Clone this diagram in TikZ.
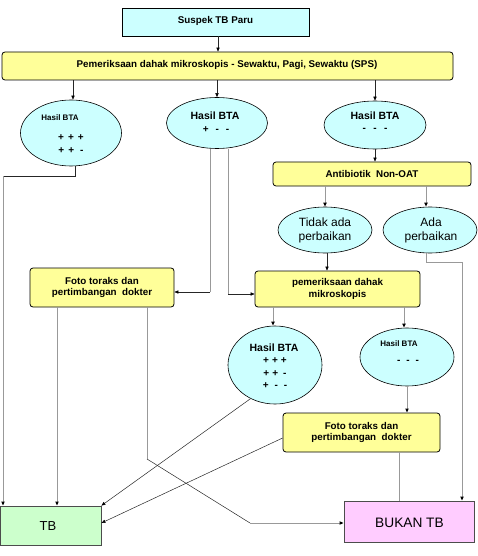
\documentclass[tikz,border=0pt]{standalone}
\usepackage{fontspec}
\setmainfont{Liberation Sans}
\usetikzlibrary{shapes.geometric,arrows.meta,calc}
\definecolor{cyanfill}{HTML}{CCFFFF}
\definecolor{yellowfill}{HTML}{FFFF99}
\definecolor{greenfill}{HTML}{CCFFCC}
\definecolor{pinkfill}{HTML}{FFCCFF}
\definecolor{linegray}{HTML}{999999}
\newcommand{\gp}[1]{\hspace{#1pt}}
\tikzset{
  boxstyle/.style={draw=black, line width=0.8pt, inner sep=0pt},
  ybox/.style={boxstyle, fill=yellowfill, rounded corners=3pt},
  ell/.style={ellipse, draw=black, line width=0.6pt, fill=cyanfill, inner sep=0pt},
  btxt/.style={font=\fontsize{9.8}{11.5}\selectfont\bfseries, align=center, inner sep=0pt},
  htxt/.style={font=\fontsize{10.5}{12}\selectfont\bfseries, inner sep=0pt},
  pmtxt/.style={font=\fontsize{10}{12}\selectfont\bfseries, inner sep=0pt},
  stxt/.style={font=\fontsize{8}{9}\selectfont\bfseries, inner sep=0pt},
  rtxt/.style={font=\fontsize{12}{14}\selectfont, align=center, inner sep=0pt},
  tip/.style={-{Triangle[length=4pt,width=3.2pt,color=black]}},
  gline/.style={draw=linegray, line width=1pt},
  tline/.style={draw=black!85, line width=0.5pt},
}
\begin{document}
\begin{tikzpicture}[x=1pt,y=-1pt]
\useasboundingbox (0,0) rectangle (477,556);
% boxes
\node[boxstyle, fill=cyanfill, minimum width=187pt, minimum height=28pt] (suspek) at (215.5,22) {};
\node[btxt] (suspekt) at (215.5,21) {Suspek TB Paru};
\node[ybox, minimum width=451pt, minimum height=28pt] (sps) at (227.5,66) {};
\node[btxt] (spst) at (227,65) {Pemeriksaan dahak mikroskopis - Sewaktu, Pagi, Sewaktu (SPS)};
% ellipses row 1
\node[ell, minimum width=101pt, minimum height=66pt] (e1) at (71,133) {};
\node[stxt] (e1a) at (60,118) {Hasil BTA};
\node[pmtxt] (e1b) at (71,138) {+\gp{4}+\gp{4}+};
\node[pmtxt] (e1c) at (71,151) {+\gp{4}+\gp{6}-};
\node[ell, minimum width=101pt, minimum height=51pt] (e2) at (217,123) {};
\node[htxt] (e2a) at (215,116) {Hasil BTA};
\node[pmtxt] (e2b) at (216,130) {+\gp{7}-\gp{7}-};
\node[ell, minimum width=102pt, minimum height=48pt] (e3) at (375,125) {};
\node[htxt] (e3a) at (375,116) {Hasil BTA};
\node[pmtxt] (e3b) at (375,130) {-\gp{7.5}-\gp{7.5}-};
% antibiotik
\node[ybox, minimum width=198pt, minimum height=24pt] (anti) at (372,174) {};
\node[btxt] (antit) at (372,174) {Antibiotik\ \ Non-OAT};
\node[ell, minimum width=94pt, minimum height=46pt] (tidak) at (325,230) {};
\node[rtxt] (tidakt) at (325,230) {Tidak ada\\perbaikan};
\node[ell, minimum width=94pt, minimum height=46pt] (ada) at (430,230) {};
\node[rtxt] (adat) at (431,230) {Ada\\perbaikan};
% foto1 and pemeriksaan
\node[ybox, minimum width=144pt, minimum height=39pt] (foto1) at (102,287.5) {};
\node[btxt] (foto1t) at (102,287.5) {Foto toraks dan\\pertimbangan\ \ dokter};
\node[ybox, minimum width=165pt, minimum height=36pt] (pem) at (337.5,289) {};
\node[btxt] (pemt) at (337.5,289) {pemeriksaan dahak\\mikroskopis};
% ellipses row 2
\node[ell, minimum width=94pt, minimum height=78pt] (e4) at (275,365) {};
\node[htxt] (e4a) at (274,348) {Hasil BTA};
\node[pmtxt] (e4b) at (275,361) {+\gp{3}+\gp{3}+};
\node[pmtxt] (e4c) at (275,373.5) {+\gp{3}+\gp{5}-};
\node[pmtxt] (e4d) at (275,386) {+\gp{6}-\gp{6}-};
\node[ell, minimum width=94pt, minimum height=58pt] (e5) at (407,357) {};
\node[stxt] (e5a) at (399,344) {Hasil BTA};
\node[pmtxt] (e5b) at (408,362) {-\gp{6}-\gp{6}-};
% foto2
\node[ybox, minimum width=157pt, minimum height=39pt] (foto2) at (361.5,432.5) {};
\node[btxt] (foto2t) at (361.5,432.5) {Foto toraks dan\\pertimbangan\ \ dokter};
% results
\node[draw=black!70, line width=0.8pt, fill=greenfill, minimum width=101pt, minimum height=39pt, inner sep=0pt] (tb) at (50.5,525.5) {};
\node[rtxt, font=\fontsize{13}{15}\selectfont] (tbt) at (48,526) {TB};
\node[draw=black!70, line width=0.8pt, fill=pinkfill, minimum width=130pt, minimum height=41pt, inner sep=0pt] (bukan) at (409,521.5) {};
\node[rtxt, font=\fontsize{13.7}{15}\selectfont] (bukant) at (409.5,523) {BUKAN TB};
% connectors top
\draw[tline, tip] ($(suspek.south)+(2.5,0)$) -- ($(suspek.south |- sps.north)+(2.5,0)$);
\draw[tline, tip] ($(e1.north |- sps.south)+(2,0)$) -- ($(e1.north)+(2,0)$);
\draw[tline, tip] (e2.north |- sps.south) -- (e2.north);
\draw[tline, tip] (e3.north |- sps.south) -- (e3.north);
\draw[tline, tip] (e3.south) -- (e3.south |- anti.north);
\draw[gline, tip] (tidak.north |- anti.south) -- (tidak.north);
\draw[gline, tip] ($(ada.north |- anti.south)+(-4,0)$) -- ($(ada.north)+(-4,0)$);
% e1 to TB
\coordinate (k1) at (75,176);
\coordinate (k2) at (3,176);
\draw[tline] (k1 |- e1.south) -- (k1) -- (k2);
\draw[gline, tip] (k2) -- (k2 |- tb.north);
% e2 to foto1 and pem
\coordinate (k3) at (210,292);
\coordinate (k4) at (228,294);
\draw[gline] (k3 |- e2.south) -- (k3);
\draw[tline, tip] (k3) -- (k3 -| foto1.east);
\draw[gline] (k4 |- e2.south) -- (k4);
\draw[tline, tip] (k4) -- (k4 -| pem.west);
% tidak to pem
\draw[tline, tip] ($(tidak.south)+(2,0)$) -- ($(tidak.south |- pem.north)+(2,0)$);
% ada to bukan
\coordinate (k5) at (462,262);
\draw[gline] ($(ada.south)+(-4,0)$) |- (k5);
\draw[gline, tip] (k5) -- (k5 |- bukan.north);
% foto1 down
\coordinate (f1a) at (57,307);
\draw[gline, tip] (f1a |- foto1.south) -- (f1a |- tb.north);
\coordinate (f1b) at (147,459);
\coordinate (f1c) at (250,523);
\draw[gline] (f1b |- foto1.south) -- (f1b);
\draw[tline] (f1b) -- (f1c);
\draw[gline, tip] (f1c) -- (f1c -| bukan.west);
% pem to ellipses
\draw[gline, tip] ($(e4.north |- pem.south)+(-2,0)$) -- ($(e4.north)+(-2,0)$);
\draw[gline, tip] ($(e5.north |- pem.south)+(-3,0)$) -- ($(e5.north)+(-3,0)$);
% e4 to tb
\draw[tline, tip] (e4.234) -- (tb.north east);
% e5 to foto2
\draw[gline, tip] (e5.south) -- (e5.south |- foto2.north);
% foto2 to tb and bukan
\draw[tline, tip] ($(foto2.west)+(0,5.5)$) -- ($(tb.east)+(0,-2.5)$);
\coordinate (f2a) at (399,452);
\draw[gline] (f2a |- foto2.south) -- (f2a |- bukan.north);
\end{tikzpicture}
\end{document}
